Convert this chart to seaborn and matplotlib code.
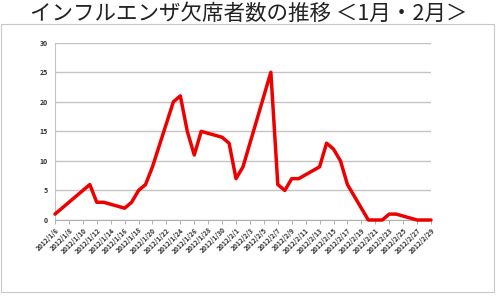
import matplotlib
matplotlib.use("Agg")
import matplotlib.pyplot as plt
from matplotlib.patches import Rectangle
import seaborn as sns
import pandas as pd

# ---- data ----
dates = ["2012-01-06", "2012-01-11", "2012-01-12", "2012-01-13", "2012-01-16",
         "2012-01-17", "2012-01-18", "2012-01-19", "2012-01-20", "2012-01-23",
         "2012-01-24", "2012-01-25", "2012-01-26", "2012-01-27", "2012-01-30",
         "2012-01-31", "2012-02-01", "2012-02-02", "2012-02-06", "2012-02-07",
         "2012-02-08", "2012-02-09", "2012-02-10", "2012-02-13", "2012-02-14",
         "2012-02-15", "2012-02-16", "2012-02-17", "2012-02-20", "2012-02-21",
         "2012-02-22", "2012-02-23", "2012-02-24", "2012-02-27", "2012-02-28",
         "2012-02-29"]
absent = [1, 6, 3, 3, 2, 3, 5, 6, 9, 20, 21, 15, 11, 15, 14, 13, 7, 9, 25, 6,
          5, 7, 7, 9, 13, 12, 10, 6, 0, 0, 0, 1, 1, 0, 0, 0]
tick_dates = ["2012-01-06", "2012-01-08", "2012-01-10", "2012-01-12", "2012-01-14",
              "2012-01-16", "2012-01-18", "2012-01-20", "2012-01-22", "2012-01-24",
              "2012-01-26", "2012-01-28", "2012-01-30", "2012-02-01", "2012-02-03",
              "2012-02-05", "2012-02-07", "2012-02-09", "2012-02-11", "2012-02-13",
              "2012-02-15", "2012-02-17", "2012-02-19", "2012-02-21", "2012-02-23",
              "2012-02-25", "2012-02-27", "2012-02-29"]
tick_labels = ["2012/1/6", "2012/1/8", "2012/1/10", "2012/1/12", "2012/1/14",
               "2012/1/16", "2012/1/18", "2012/1/20", "2012/1/22", "2012/1/24",
               "2012/1/26", "2012/1/28", "2012/1/30", "2012/2/1", "2012/2/3",
               "2012/2/5", "2012/2/7", "2012/2/9", "2012/2/11", "2012/2/13",
               "2012/2/15", "2012/2/17", "2012/2/19", "2012/2/21", "2012/2/23",
               "2012/2/25", "2012/2/27", "2012/2/29"]
y_ticks = [0, 5, 10, 15, 20, 25, 30]
title = "インフルエンザ欠席者数の推移 ＜1月・2月＞"

df = pd.DataFrame({"date": pd.to_datetime(dates), "absent": absent})

sns.set_theme(style="white")
plt.rcParams["font.family"] = ["Noto Sans CJK JP", "DejaVu Sans"]

fig = plt.figure(figsize=(5.0, 2.98), dpi=100)
fig.patch.set_facecolor("white")
ax = fig.add_axes([0.11, 0.2617, 0.752, 0.595])

sns.lineplot(data=df, x="date", y="absent", ax=ax, color="#ee0000",
             linewidth=2.5, clip_on=False, zorder=5)

ax.set_xlim(pd.Timestamp("2012-01-06"), pd.Timestamp("2012-02-29"))
ax.set_ylim(0, 30)
ax.set_yticks(y_ticks)
ax.set_yticklabels([str(v) for v in y_ticks], fontsize=5, color="#333333",
                   fontweight="bold")
ax.set_xticks(pd.to_datetime(tick_dates))
ax.set_xticklabels(tick_labels, rotation=45, ha="right", rotation_mode="anchor",
                   fontsize=4.8, color="#333333", fontweight="bold")
ax.set_xlabel("")
ax.set_ylabel("")
ax.yaxis.grid(True, color="#c4c4c4", linewidth=1.0)
ax.xaxis.grid(False)
ax.tick_params(axis="x", direction="out", length=3, width=0.7, color="#b0b0b0",
               pad=1.5, bottom=True)
ax.tick_params(axis="y", length=0, pad=5)
for s in ["top", "right"]:
    ax.spines[s].set_visible(False)
ax.spines["bottom"].set_color("#b0b0b0")
ax.spines["bottom"].set_linewidth(0.8)
ax.spines["left"].set_color("#c4c4c4")
ax.spines["left"].set_linewidth(0.8)

fig.patches.append(Rectangle((0.002, 0.0185), 0.986, 0.9005, transform=fig.transFigure,
                             fill=False, edgecolor="#c8c8c8", linewidth=0.8))

fig.text(0.497, 0.952, title, ha="center", va="center", fontsize=15.5,
         color="#222222")

fig.savefig("out.png", dpi=100, facecolor="white")
